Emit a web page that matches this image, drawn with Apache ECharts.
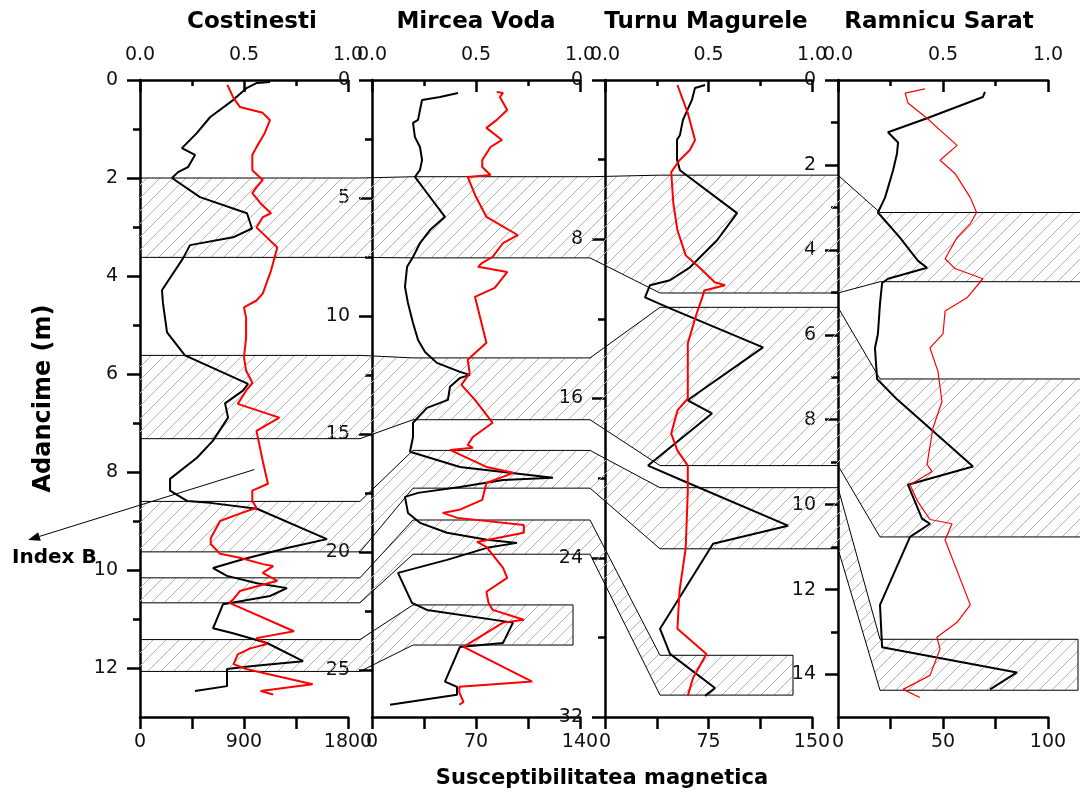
<!DOCTYPE html>
<html>
<head>
<meta charset="utf-8">
<title>Susceptibilitatea magnetica si Index B</title>
<script src="https://cdn.jsdelivr.net/npm/echarts@6/dist/echarts.min.js"></script>
<style>
  html, body { margin: 0; padding: 0; background: #fff; }
  #chart { width: 1080px; height: 798px; }
</style>
</head>
<body>
<div id="chart"></div>
<script>
// ---- sites, axes and tick values ----
const sites = ['Costinesti', 'Mircea Voda', 'Turnu Magurele', 'Ramnicu Sarat'];
const depthMax = [13, 27, 32, 15];
const depthMajor = [[0, 2, 4, 6, 8, 10, 12], [0, 5, 10, 15, 20, 25], [0, 8, 16, 24, 32], [0, 2, 4, 6, 8, 10, 12, 14]];
const depthMinor = [[1, 3, 5, 7, 9, 11], [2.5, 7.5, 12.5, 17.5, 22.5], [4, 12, 20, 28], [1, 3, 5, 7, 9, 11, 13]];
const suscMax = [1800, 140, 150, 100];
const suscLabels = [[0, 900, 1800], [0, 70, 140], [0, 75, 150], [0, 50, 100]];
const indexLabels = [0, 0.5, 1];

// ---- magnetic susceptibility profiles: [susceptibility, depth m] ----
const suscCostinesti = [[1125,0.04],[1012,0.06],[926,0.16],[805,0.41],[606,0.76],[493,1.08],[363,1.39],[476,1.53],[415,1.78],[329,1.88],[277,2.0],[519,2.39],[926,2.72],[969,3.03],[805,3.21],[433,3.37],[372,3.64],[190,4.29],[199,4.56],[234,5.15],[389,5.62],[935,6.2],[891,6.34],[736,6.6],[762,6.89],[632,7.36],[493,7.71],[260,8.14],[260,8.38],[407,8.59],[606,8.63],[1012,8.75],[1618,9.37],[1272,9.55],[891,9.78],[632,9.96],[753,10.12],[1012,10.27],[1272,10.37],[1125,10.53],[796,10.67],[718,10.7],[632,11.19],[805,11.29],[1099,11.49],[1411,11.86],[978,11.96],[753,12.02],[753,12.37],[476,12.47]];
const suscMircea = [[57.9,0.55],[45.8,0.72],[33.7,0.85],[32.3,1.27],[31.0,1.69],[27.6,1.82],[28.9,2.42],[32.3,2.84],[33.7,3.39],[32.3,3.81],[28.9,4.11],[37.0,4.79],[49.1,5.8],[39.0,6.36],[32.3,6.91],[27.6,7.5],[23.6,7.92],[22.2,8.77],[24.2,9.45],[27.6,10.3],[31.0,11.02],[35.7,11.53],[43.7,11.99],[59.2,12.37],[65.9,12.5],[59.2,12.63],[52.5,13.0],[51.1,13.56],[37.0,13.9],[27.6,14.53],[27.6,15.13],[25.6,15.76],[59.2,16.4],[121.8,16.86],[88.2,16.95],[59.2,17.25],[31.0,17.5],[22.2,17.67],[24.2,18.35],[32.3,18.77],[50.5,19.19],[77.4,19.49],[97.6,19.62],[77.4,19.83],[50.5,20.34],[17.5,20.89],[26.9,22.16],[37.0,22.46],[94.9,23.0],[88.2,23.86],[59.2,24.03],[49.1,25.5],[57.2,25.72],[57.2,26.06],[12.1,26.48]];
const suscTurnu = [[72.5,0.25],[65.2,0.4],[63.0,1.0],[56.5,2.0],[54.3,2.77],[52.2,3.0],[52.2,4.0],[54.3,4.53],[95.7,6.69],[81.2,8.05],[61.6,9.41],[47.1,10.06],[32.6,10.31],[29.0,10.92],[47.1,11.47],[114.5,13.43],[61.6,16.0],[60.0,16.1],[77.5,16.75],[31.2,19.37],[56.5,20.13],[132.6,22.39],[78.3,23.3],[39.9,27.57],[47.1,28.83],[79.7,30.54],[72.5,30.94]];
const suscRamnicu = [[70.0,0.28],[69.0,0.4],[42.4,0.9],[23.8,1.23],[28.6,1.47],[28.1,1.73],[26.2,2.13],[22.4,2.77],[19.0,3.12],[29.5,3.71],[38.1,4.26],[42.4,4.42],[23.8,4.68],[21.0,4.78],[20.0,5.27],[19.0,5.98],[17.6,6.31],[18.6,7.04],[28.1,7.52],[64.3,9.1],[33.3,9.53],[40.0,10.33],[43.8,10.45],[34.3,10.76],[20.0,12.36],[21.0,13.36],[85.2,13.95],[72.4,14.35]];

// ---- Index B profiles: [index, depth m] ----
const indexCostinesti = [[0.42,0.1],[0.45,0.37],[0.48,0.55],[0.59,0.67],[0.625,0.82],[0.6,1.08],[0.56,1.37],[0.54,1.53],[0.54,1.84],[0.59,2.04],[0.56,2.19],[0.54,2.31],[0.58,2.52],[0.63,2.72],[0.59,2.8],[0.56,3.01],[0.59,3.13],[0.66,3.42],[0.63,3.89],[0.59,4.36],[0.56,4.5],[0.5,4.64],[0.51,4.85],[0.51,5.26],[0.5,5.66],[0.51,5.93],[0.54,6.18],[0.51,6.34],[0.47,6.61],[0.67,6.89],[0.56,7.16],[0.59,7.77],[0.615,8.24],[0.54,8.38],[0.54,8.59],[0.56,8.73],[0.48,8.85],[0.385,9.0],[0.34,9.35],[0.34,9.47],[0.385,9.67],[0.48,9.75],[0.59,9.88],[0.64,9.92],[0.59,10.06],[0.66,10.22],[0.48,10.43],[0.45,10.59],[0.43,10.67],[0.74,11.25],[0.56,11.39],[0.61,11.51],[0.53,11.6],[0.47,11.72],[0.45,11.92],[0.51,12.02],[0.83,12.33],[0.58,12.47],[0.64,12.54]];
const indexMircea = [[0.6,0.51],[0.63,0.55],[0.615,0.72],[0.65,1.27],[0.6,1.69],[0.55,2.03],[0.625,2.54],[0.57,2.84],[0.53,3.39],[0.53,3.69],[0.57,4.03],[0.46,4.11],[0.5,4.96],[0.55,5.8],[0.7,6.57],[0.63,6.91],[0.58,7.5],[0.53,7.75],[0.51,7.92],[0.65,8.14],[0.59,8.81],[0.495,9.19],[0.55,11.14],[0.46,11.86],[0.47,12.42],[0.43,12.92],[0.495,13.56],[0.58,14.53],[0.485,15.13],[0.46,15.47],[0.485,15.59],[0.375,15.68],[0.55,16.4],[0.68,16.65],[0.55,17.08],[0.53,17.8],[0.42,18.22],[0.34,18.35],[0.41,18.56],[0.73,18.86],[0.73,19.19],[0.505,19.58],[0.55,19.79],[0.63,20.68],[0.65,21.1],[0.55,21.69],[0.56,22.16],[0.58,22.46],[0.73,22.88],[0.63,23.0],[0.44,24.03],[0.77,25.5],[0.42,25.72],[0.42,25.97],[0.44,26.36],[0.42,26.48]];
const indexTurnu = [[0.35,0.25],[0.4,1.66],[0.435,3.02],[0.41,3.52],[0.36,4.03],[0.32,4.63],[0.33,6.19],[0.35,7.55],[0.39,8.81],[0.46,9.46],[0.53,10.16],[0.58,10.31],[0.48,10.57],[0.47,10.92],[0.44,11.82],[0.4,13.23],[0.4,16.0],[0.35,16.6],[0.32,17.76],[0.35,18.62],[0.4,19.37],[0.4,20.63],[0.39,23.5],[0.36,25.66],[0.35,27.57],[0.49,28.83],[0.425,30.04],[0.4,30.94]];
const indexRamnicu = [[0.414,0.21],[0.32,0.31],[0.333,0.54],[0.424,0.9],[0.486,1.18],[0.567,1.54],[0.486,1.89],[0.557,2.2],[0.63,2.77],[0.66,3.12],[0.63,3.38],[0.567,3.71],[0.51,4.21],[0.557,4.44],[0.69,4.68],[0.614,5.13],[0.51,5.44],[0.5,5.98],[0.438,6.31],[0.476,6.86],[0.495,7.57],[0.452,8.2],[0.424,9.05],[0.448,9.22],[0.343,9.53],[0.38,9.93],[0.438,10.35],[0.543,10.45],[0.51,10.83],[0.63,12.36],[0.567,12.77],[0.471,13.12],[0.486,13.4],[0.438,14.02],[0.31,14.35],[0.39,14.54]];

// ---- correlated horizons: [top, bottom] depth for each site, west to east ----
const bandA = [[2.0, 3.62], [4.1, 7.54], [4.78, 10.7], [3.12, 4.75]];
const bandB = [[5.62, 7.32], [11.78, 14.4], [11.42, 19.37], [7.04, 10.76]];
const bandC = [[8.6, 9.63], [15.7, 17.3], [20.48, 23.55], [13.17, 14.37]];
const bandD = [[10.16, 10.67], [18.65, 20.1], [28.9, 30.9]];
const bandE = [[11.42, 12.07], [22.25, 23.95]];

const suscSeries = [suscCostinesti, suscMircea, suscTurnu, suscRamnicu];
const indexSeries = [indexCostinesti, indexMircea, indexTurnu, indexRamnicu];

// ---- layout ----
const panels = [
  { left: 140, width: 208 },
  { left: 372, width: 208 },
  { left: 605, width: 207 },
  { left: 838, width: 210 }
];
const plotTop = 80, plotHeight = 637;
const AX = '#000';
const tickFont = { color: '#111', fontSize: 19, fontFamily: 'DejaVu Sans' };

const chart = echarts.init(document.getElementById('chart'), null, { renderer: 'canvas' });

const option = {
  animation: false,
  backgroundColor: '#fff',
  grid: panels.map(p => ({ left: p.left, width: p.width, top: plotTop, height: plotHeight, containLabel: false })),
  xAxis: [],
  yAxis: [],
  series: []
};

sites.forEach((site, i) => {
  // Index B scale (top)
  option.xAxis.push({
    gridIndex: i, type: 'value', position: 'top', min: 0, max: 1, interval: 0.5,
    axisLine: { show: true, onZero: false, lineStyle: { color: AX, width: 2.5 } },
    axisTick: { show: true, inside: true, length: 12, lineStyle: { color: AX, width: 2.5 } },
    minorTick: { show: true, splitNumber: 2, length: 6, lineStyle: { color: AX, width: 2.5 } },
    splitLine: { show: false }, minorSplitLine: { show: false },
    axisLabel: Object.assign({ margin: 15, showMinLabel: true, showMaxLabel: true,
      formatter: v => indexLabels.some(t => Math.abs(t - v) < 1e-9) ? v.toFixed(1) : '' }, tickFont)
  });
  // susceptibility scale (bottom)
  option.xAxis.push({
    gridIndex: i, type: 'value', position: 'bottom', min: 0, max: suscMax[i], interval: suscMax[i] / 4,
    axisLine: { show: true, onZero: false, lineStyle: { color: AX, width: 2.5 } },
    axisTick: { show: true, inside: false, length: 12, lineStyle: { color: AX, width: 2.5 } },
    splitLine: { show: false },
    axisLabel: Object.assign({ margin: 16, showMinLabel: true, showMaxLabel: true,
      formatter: v => suscLabels[i].some(t => Math.abs(t - v) < 1e-9) ? String(v) : '' }, tickFont)
  });
  // depth (major ticks + labels)
  option.yAxis.push({
    gridIndex: i, type: 'value', inverse: true, min: 0, max: depthMax[i], position: 'left',
    name: i === 0 ? 'Adancime (m)' : '',
    nameLocation: 'middle', nameRotate: 90, nameGap: 84,
    nameTextStyle: { color: '#000', fontSize: 24, fontWeight: 'bold', fontFamily: 'DejaVu Sans' },
    axisLine: { show: true, onZero: false, lineStyle: { color: AX, width: 2.5 } },
    axisTick: { show: true, length: 13, customValues: depthMajor[i], lineStyle: { color: AX, width: 2.5 } },
    splitLine: { show: false },
    axisLabel: Object.assign({ margin: 22, customValues: depthMajor[i], showMinLabel: true, showMaxLabel: true }, tickFont)
  });
  // depth (minor ticks)
  option.yAxis.push({
    gridIndex: i, type: 'value', inverse: true, min: 0, max: depthMax[i], position: 'left',
    axisLine: { show: false, onZero: false },
    axisTick: { show: true, length: 7, customValues: depthMinor[i], lineStyle: { color: AX, width: 2.5 } },
    axisLabel: { show: false }, splitLine: { show: false }
  });

  option.series.push({
    name: site + ' susceptibilitate', type: 'line', xAxisIndex: 2 * i + 1, yAxisIndex: 2 * i,
    data: suscSeries[i], symbol: 'none', z: 5,
    lineStyle: { color: '#000', width: 2 }
  });
  option.series.push({
    name: site + ' Index B', type: 'line', xAxisIndex: 2 * i, yAxisIndex: 2 * i,
    data: indexSeries[i], symbol: 'none', z: 6,
    lineStyle: { color: '#ff0000', width: i === 3 ? 1.2 : 2 }
  });
});

chart.setOption(option);

// ---- hatched correlation bands, placed through each site's depth axis ----
function hatchCanvas() {
  const c = document.createElement('canvas');
  c.width = 13; c.height = 13;
  const g = c.getContext('2d');
  g.strokeStyle = '#b4b4b4';
  g.lineWidth = 1;
  g.beginPath();
  g.moveTo(-2, 15); g.lineTo(15, -2);
  g.stroke();
  return c;
}
const hatch = { image: hatchCanvas(), repeat: 'repeat' };

const L = panels.map((p, i) => chart.convertToPixel({ xAxisIndex: 2 * i + 1 }, 0));
const R = panels.map((p, i) => chart.convertToPixel({ xAxisIndex: 2 * i + 1 }, suscMax[i]));
const yPix = (i, d) => chart.convertToPixel({ yAxisIndex: 2 * i }, d);
const joinStart = [0, -12, -15, 0];
const joinEnd = [0, 41, 55, 42];
const W = chart.getWidth();

function edge(depths, k, endX) {
  const pts = [[L[0], yPix(0, depths[0][k])]];
  for (let j = 1; j < depths.length; j++) {
    pts.push([L[j] + joinStart[j], yPix(j - 1, depths[j - 1][k])]);
    pts.push([L[j] + joinEnd[j], yPix(j, depths[j][k])]);
  }
  const last = depths.length - 1;
  pts.push([endX, yPix(last, depths[last][k])]);
  return pts;
}

const bands = [
  { depths: bandA, closed: false },
  { depths: bandB, closed: false },
  { depths: bandC, closed: true, endX: W - 2 },
  { depths: bandD, closed: true, endX: R[2] - 19 },
  { depths: bandE, closed: true, endX: R[1] - 7 }
];

const graphics = [];
bands.forEach(b => {
  const endX = b.closed ? b.endX : W;
  const top = edge(b.depths, 0, endX);
  const bot = edge(b.depths, 1, endX);
  graphics.push({
    type: 'polygon', silent: true, z: 1,
    shape: { points: top.concat(bot.slice().reverse()) },
    style: { fill: hatch, stroke: null }
  });
  const lineStyle = { stroke: '#000', lineWidth: 1, fill: null };
  if (b.closed) {
    graphics.push({ type: 'polyline', silent: true, z: 2, shape: { points: top.concat(bot.slice().reverse()) }, style: lineStyle });
  } else {
    graphics.push({ type: 'polyline', silent: true, z: 2, shape: { points: top }, style: lineStyle });
    graphics.push({ type: 'polyline', silent: true, z: 2, shape: { points: bot }, style: lineStyle });
  }
});

// ---- site titles and axis title ----
const titleCenters = [252, 476, 706, 939];
sites.forEach((s, i) => {
  graphics.push({
    type: 'text', silent: true, z: 10, x: titleCenters[i], y: 22,
    style: { text: s, align: 'center', verticalAlign: 'middle', fill: '#000',
      font: 'bold 23px "DejaVu Sans"' }
  });
});
graphics.push({
  type: 'text', silent: true, z: 10, x: 602, y: 779,
  style: { text: 'Susceptibilitatea magnetica', align: 'center', verticalAlign: 'middle', fill: '#000',
    font: 'bold 21px "DejaVu Sans"' }
});

// ---- "Index B" callout pointing at the Costinesti Index B curve ----
const anchor = chart.convertToPixel({ xAxisIndex: 0, yAxisIndex: 0 }, [0.55, 7.95]);
const tip = [28, 540];
const ang = Math.atan2(tip[1] - anchor[1], tip[0] - anchor[0]);
const ah = 12, aw = 4.5;
const base = [tip[0] - ah * Math.cos(ang), tip[1] - ah * Math.sin(ang)];
graphics.push({
  type: 'line', silent: true, z: 10,
  shape: { x1: anchor[0], y1: anchor[1], x2: base[0], y2: base[1] },
  style: { stroke: '#000', lineWidth: 1 }
});
graphics.push({
  type: 'polygon', silent: true, z: 10,
  shape: { points: [tip,
    [base[0] + aw * Math.sin(ang), base[1] - aw * Math.cos(ang)],
    [base[0] - aw * Math.sin(ang), base[1] + aw * Math.cos(ang)]] },
  style: { fill: '#000' }
});
graphics.push({
  type: 'text', silent: true, z: 10, x: 12, y: 558,
  style: { text: 'Index B', align: 'left', verticalAlign: 'middle', fill: '#000',
    font: 'bold 20px "DejaVu Sans"' }
});

chart.setOption({ graphic: graphics });
</script>
</body>
</html>
